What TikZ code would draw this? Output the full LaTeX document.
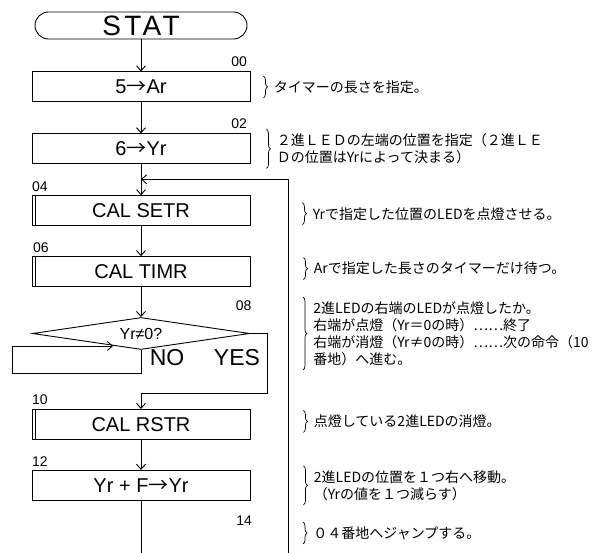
\documentclass[tikz,border=0pt]{standalone}
\usepackage{fontspec}
\setmainfont{Liberation Sans}
\newfontfamily\jp{Noto Sans CJK JP}
\newcommand\arw{{\jp →}}
\usetikzlibrary{arrows.meta,positioning,shapes.geometric,decorations.pathreplacing}

\begin{document}
\begin{tikzpicture}[x=1pt,y=1pt,node distance=31pt,line width=.9pt,box/.style={draw,minimum width=218pt,minimum height=30pt,inner sep=0pt,font=\fontsize{20}{22}\selectfont},startbox/.style={box,minimum width=212pt,minimum height=27pt,rounded corners=13.5pt,font=\fontsize{28}{30}\selectfont\addfontfeature{LetterSpace=12}},decide/.style={draw,diamond,aspect=7,minimum width=217pt,minimum height=32pt,inner sep=0pt,font=\fontsize{16}{18}\selectfont},addr/.style={inner sep=0pt,font=\fontsize{14}{14}\selectfont},answer/.style={inner sep=0pt,font=\fontsize{23}{25}\selectfont},note/.style={inner xsep=0pt,inner ysep=4pt,align=left,font=\jp\fontsize{14}{17}\selectfont},notebrace/.style={decorate,decoration={brace,amplitude=4pt},line width=.7pt},arrow/.style={-{Straight Barb[length=5pt,width=9pt]}}]
\fill[white] (0,0) rectangle (599,-553);
\useasboundingbox (0,0) rectangle (599,-553);
% flow
\node[startbox] (stat) at (141,-25.5) {STAT};
\node[box,below=32pt of stat] (ar) {5\arw Ar};
\node[box,below=of ar] (yr) {6\arw Yr};
\node[box,below=of yr] (setr) {CAL SETR};
\node[box,below=30pt of setr] (timr) {CAL TIMR};
\node[decide,below=30pt of timr] (chk) {Yr≠0?};
\node[box,below=59pt of chk] (rstr) {CAL RSTR};
\node[box,below=30pt of rstr] (shift) {Yr + F\arw Yr};
\foreach \n in {setr,timr,rstr} \draw ([xshift=4pt]\n.north west)--([xshift=4pt]\n.south west);
\node[answer] (no) at (167,-358) {NO};
\node[answer] (yes) at (237,-358) {YES};
% addresses
\node[addr,above left=4pt and 3pt of ar.north east] (a00) {00};
\node[addr,above left=4pt and 3pt of yr.north east] (a02) {02};
\node[addr,above right=3pt and 0pt of setr.north west] (a04) {04};
\node[addr,above right=3pt and 1pt of timr.north west] (a06) {06};
\node[addr,anchor=south east] (a08) at ([shift={(2pt,22pt)}]chk.east) {08};
\node[addr,above right=4pt and 0pt of rstr.north west] (a10) {10};
\node[addr,above right=3pt and 0pt of shift.north west] (a12) {12};
\node[addr,below left=15pt and -2pt of shift.south east] (a14) {14};
% connectors
\coordinate (jn) at ([yshift=-15pt]yr.south);
\coordinate (halt) at (113,-346);
\coordinate (bl) at (141,-553);
\coordinate (br) at (288,-553);
\draw[arrow] (stat)--(ar);\draw[arrow] (ar)--(yr);\draw[arrow] (yr)--(setr);\draw[arrow] (setr)--(timr);\draw[arrow] (timr)--(chk);\draw[arrow] (rstr)--(shift);
\draw[arrow] (chk.east)--++(17,0)|-([yshift=16pt]rstr.north)--(rstr.north);
\draw[arrow] (chk.south)--++(0,-23)-|([xshift=-101pt]halt)--(halt);
\draw (shift)--(bl);
\draw[arrow] (br)|-(jn);
% notes
\node[note,right=23pt of ar] (nar) {タイマーの長さを指定。};
\node[note,right=26pt of yr] (nyr) {２進ＬＥＤの左端の位置を指定（２進ＬＥ\\Ｄの位置はYrによって決まる）};
\node[note,right=62pt of setr,yshift=-3pt] (nsetr) {Yrで指定した位置のLEDを点燈させる。};
\node[note,right=63pt of timr,yshift=3pt] (ntimr) {Arで指定した長さのタイマーだけ待つ。};
\node[note,right=63pt of chk] (nchk) {2進LEDの右端のLEDが点燈したか。\\右端が点燈（Yr＝0の時）⋯⋯終了\\右端が消燈（Yr≠0の時）⋯⋯次の命令（10\\番地）へ進む。};
\node[note,right=63pt of rstr,yshift=3pt] (nrstr) {点燈している2進LEDの消燈。};
\node[note,right=63pt of shift] (nshift) {2進LEDの位置を１つ右へ移動。\\（Yrの値を１つ減らす）};
\node[note,anchor=west] (njmp) at (313,-533) {０４番地へジャンプする。};
\foreach \n in {nar,nyr,nsetr,ntimr,nchk,nrstr,nshift,njmp} \draw[notebrace] ([xshift=-10pt]\n.north west)--([xshift=-10pt]\n.south west);
\end{tikzpicture}
\end{document}
